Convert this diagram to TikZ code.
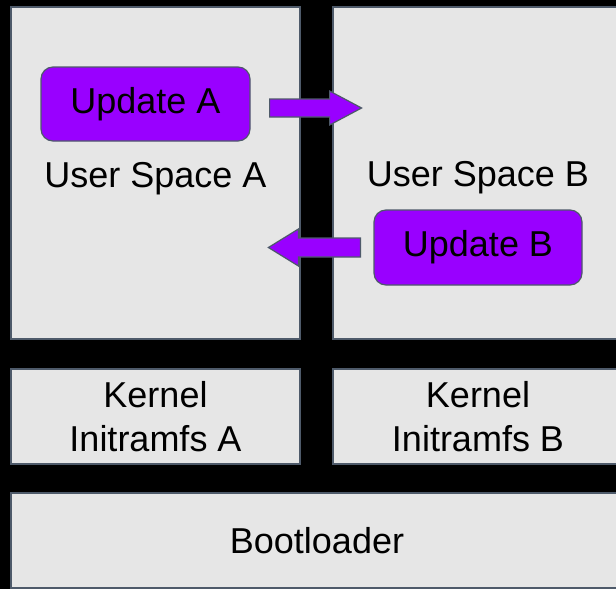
\documentclass[tikz,border=0pt]{standalone}
\usepackage{fontspec}
\setmainfont{Liberation Sans}
\definecolor{boxgray}{HTML}{E6E6E6}
\definecolor{edge}{HTML}{4E5A6A}
\definecolor{purp}{HTML}{9900FF}
\begin{document}
\begin{tikzpicture}[x=1pt,y=-1pt,
  layer/.style={draw=edge, fill=boxgray, line width=1.2pt, inner sep=0pt},
  upd/.style={draw=edge, fill=purp, line width=1.2pt, rounded corners=12pt, inner sep=0pt},
  lbl/.style={font=\fontsize{36}{44}\selectfont, text=black, align=center},
  blockarrow/.style={draw=edge, fill=purp, line width=1.2pt, line join=miter}]
\fill[black] (0,0) rectangle (616,589);
\useasboundingbox (0,0) rectangle (616,589);
% layers
\node[layer, minimum width=289pt, minimum height=332pt] (usa) at (155.5,173) {};
\node[layer, minimum width=290pt, minimum height=332pt] (usb) at (478,173) {};
\node[layer, lbl, minimum width=289pt, minimum height=95pt] (ka) at (155.5,416.5) {Kernel\\Initramfs A};
\node[layer, lbl, minimum width=290pt, minimum height=95pt] (kb) at (478,416.5) {Kernel\\Initramfs B};
\node[layer, lbl, minimum width=612pt, minimum height=95pt] (boot) at (317,540.5) {Bootloader};
% labels
\node[lbl, anchor=base] (lusa) at (155.5,187) {User Space A};
\node[lbl, anchor=base] (lusb) at (478,186) {User Space B};
% update boxes
\node[upd, lbl, minimum width=209pt, minimum height=74pt] (upa) at (145.5,104) {Update A};
\node[upd, lbl, minimum width=208pt, minimum height=75pt] (upb) at (478,247.5) {Update B};
% arrows
\coordinate (a0) at ([xshift=19pt]upa.east |- 0,108);
\draw[blockarrow] (a0) ++(0,-9) -- ++(60,0) -- ++(0,-8) -- ++(32,17) -- ++(-32,17) -- ++(0,-8) -- ++(-60,0) -- cycle;
\coordinate (b0) at ([xshift=-13pt]upb.west);
\draw[blockarrow] (b0) ++(0,-9.5) -- ++(-62,0) -- ++(0,-9) -- ++(-30,18.5) -- ++(30,18.5) -- ++(0,-9) -- ++(62,0) -- cycle;
\end{tikzpicture}
\end{document}
